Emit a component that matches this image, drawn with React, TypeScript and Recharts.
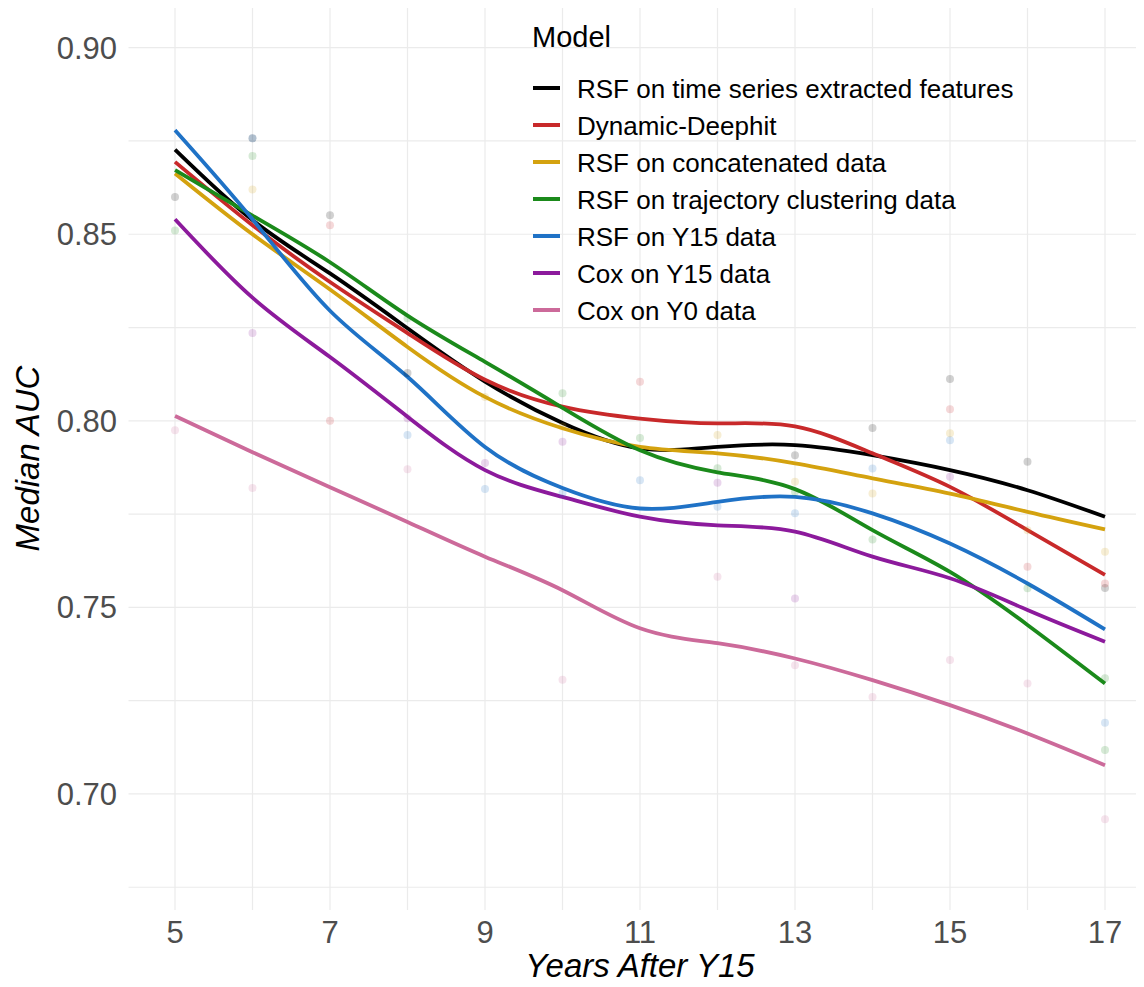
import { ComposedChart, Line, Scatter, XAxis, YAxis, CartesianGrid, Legend, Label } from "recharts";

const FONT = "'Liberation Sans', Arial, Helvetica, sans-serif";

// x axis: years after Y15
const years = [5, 6, 7, 8, 9, 10, 11, 12, 13, 14, 15, 16, 17];
const xTicks = [5, 7, 9, 11, 13, 15, 17];
const xGrid = [5, 6, 7, 8, 9, 10, 11, 12, 13, 14, 15, 16, 17];
const yTicks = [0.7, 0.75, 0.8, 0.85, 0.9];
const yGrid = [0.675, 0.7, 0.725, 0.75, 0.775, 0.8, 0.825, 0.85, 0.875, 0.9];

// smoothed median AUC per model
const rsfTs = [0.8727, 0.8538, 0.8395, 0.8248, 0.8105, 0.7994, 0.7926, 0.793, 0.7935, 0.7908, 0.7868, 0.7814, 0.7743];
const deephit = [0.8694, 0.8524, 0.8372, 0.8235, 0.811, 0.8038, 0.8006, 0.7993, 0.7985, 0.7913, 0.7823, 0.7707, 0.7587];
const rsfConcat = [0.8663, 0.85, 0.8352, 0.8198, 0.8064, 0.798, 0.793, 0.7913, 0.7886, 0.7846, 0.7805, 0.7756, 0.7709];
const rsfTraj = [0.8672, 0.855, 0.8425, 0.8282, 0.8158, 0.8035, 0.7921, 0.7862, 0.7817, 0.7707, 0.7595, 0.7453, 0.7296];
const rsfY15 = [0.8779, 0.854, 0.8295, 0.8118, 0.793, 0.782, 0.7765, 0.7783, 0.7796, 0.7752, 0.7671, 0.7564, 0.7441];
const coxY15 = [0.854, 0.833, 0.8171, 0.8011, 0.7868, 0.7796, 0.7743, 0.772, 0.7703, 0.7636, 0.7578, 0.7493, 0.7408];
const coxY0 = [0.8013, 0.7916, 0.7822, 0.7729, 0.7636, 0.7546, 0.7444, 0.7404, 0.7363, 0.7305, 0.7238, 0.7162, 0.7077];

// raw yearly points (faint dots)
const rsfTsPts = [[5, 0.86], [6, 0.8757], [7, 0.8551], [8, 0.8128], [13, 0.7908], [14, 0.7981], [15, 0.8112], [16, 0.789], [17, 0.7552]];
const deephitPts = [[7, 0.8524], [7, 0.8], [11, 0.8105], [15, 0.8031], [16, 0.7609], [17, 0.7564]];
const rsfConcatPts = [[6, 0.862], [9, 0.8064], [10, 0.7985], [12, 0.7962], [13, 0.7837], [14, 0.7805], [15, 0.7967], [16, 0.7707], [17, 0.7649]];
const rsfTrajPts = [[5, 0.851], [6, 0.871], [8, 0.8275], [10, 0.8074], [11, 0.7954], [12, 0.7873], [13, 0.781], [14, 0.7682], [16, 0.7551], [17, 0.731], [17, 0.7118]];
const rsfY15Pts = [[6, 0.8757], [8, 0.7962], [9, 0.7817], [10, 0.7806], [11, 0.7841], [12, 0.777], [13, 0.7752], [14, 0.7872], [15, 0.7948], [17, 0.7191]];
const coxY15Pts = [[6, 0.8235], [8, 0.8007], [9, 0.7887], [10, 0.7944], [12, 0.7834], [13, 0.7524], [15, 0.785]];
const coxY0Pts = [[5, 0.7975], [6, 0.782], [8, 0.787], [10, 0.7306], [12, 0.7582], [13, 0.7345], [14, 0.726], [15, 0.7359], [16, 0.7296], [17, 0.6932]];

const series = [
  { key: "rsfTs", name: "RSF on time series extracted features", color: "#000000", values: rsfTs, pts: rsfTsPts },
  { key: "deephit", name: "Dynamic-Deephit", color: "#c8292a", values: deephit, pts: deephitPts },
  { key: "rsfConcat", name: "RSF on concatenated data", color: "#d4a20f", values: rsfConcat, pts: rsfConcatPts },
  { key: "rsfTraj", name: "RSF on trajectory clustering data", color: "#1b8a1b", values: rsfTraj, pts: rsfTrajPts },
  { key: "rsfY15", name: "RSF on Y15 data", color: "#1f72c6", values: rsfY15, pts: rsfY15Pts },
  { key: "coxY15", name: "Cox on Y15 data", color: "#8c1a9c", values: coxY15, pts: coxY15Pts },
  { key: "coxY0", name: "Cox on Y0 data", color: "#cc6a9a", values: coxY0, pts: coxY0Pts },
];

const data = years.map((year, i) => {
  const row: any = { year };
  series.forEach((s) => (row[s.key] = s.values[i]));
  return row;
});

function ModelLegend() {
  return (
    <svg width={1144} height={340} style={{ display: "block" }}>
      <text x={532} y={47} fontSize={29} fontFamily={FONT} fill="#000">Model</text>
      {series.map((s, i) => {
        const base = 98 + i * 37;
        return (
          <g key={s.key}>
            <line x1={533} x2={560} y1={base - 10} y2={base - 10} stroke={s.color} strokeWidth={4} />
            <text x={577} y={base} fontSize={26} fontFamily={FONT} fill="#000">{s.name}</text>
          </g>
        );
      })}
    </svg>
  );
}

export default function App() {
  return (
    <div style={{ margin: -8, width: 1144, height: 987, overflow: "hidden", background: "#fff", position: "relative" }}>
      <ComposedChart
        width={1160}
        height={987}
        data={data}
        margin={{ top: 7, right: 8.5, bottom: 0, left: 8.5 }}
      >
        <CartesianGrid stroke="#ebebeb" strokeWidth={1.2} verticalValues={xGrid} horizontalValues={yGrid} />
        <XAxis
          dataKey="year"
          type="number"
          domain={[4.4, 17.6]}
          ticks={xTicks}
          allowDataOverflow
          axisLine={false}
          tickLine={false}
          tickSize={0}
          tickMargin={11}
          height={77}
          tick={{ fill: "#4d4d4d", fontSize: 31, fontFamily: FONT }}
        >
          <Label value="Years After Y15" position="insideBottom" offset={10} fill="#000" fontSize={33} fontStyle="italic" fontFamily={FONT} />
        </XAxis>
        <YAxis
          type="number"
          domain={[0.6689, 0.9109]}
          ticks={yTicks}
          allowDataOverflow
          axisLine={false}
          tickLine={false}
          tickSize={0}
          tickMargin={11.5}
          width={120}
          tickFormatter={(v: number) => v.toFixed(2)}
          tick={{ fill: "#4d4d4d", fontSize: 31, fontFamily: FONT }}
        >
          <Label
            value="Median AUC"
            angle={-90}
            position="insideLeft"
            offset={18.5}
            fill="#000"
            fontSize={33}
            fontStyle="italic"
            fontFamily={FONT}
            style={{ textAnchor: "middle" }}
          />
        </YAxis>
        {series.map((s) => (
          <Scatter
            key={s.key + "-pts"}
            data={s.pts.map(([year, auc]) => ({ year, [s.key]: auc }))}
            dataKey={s.key}
            fill={s.color}
            shape={(p: any) => <circle cx={p.cx} cy={p.cy} r={4} fill={s.color} fillOpacity={0.18} />}
            legendType="none"
            isAnimationActive={false}
          />
        ))}
        {series.map((s) => (
          <Line
            key={s.key}
            type="natural"
            dataKey={s.key}
            name={s.name}
            stroke={s.color}
            strokeWidth={3.8}
            dot={false}
            isAnimationActive={false}
          />
        ))}
        <Legend
          content={() => <ModelLegend />}
          layout="horizontal"
          verticalAlign="middle"
          align="center"
          wrapperStyle={{ position: "absolute", top: 0, left: 0, width: 1144, height: 340, margin: 0 }}
        />
      </ComposedChart>
    </div>
  );
}
